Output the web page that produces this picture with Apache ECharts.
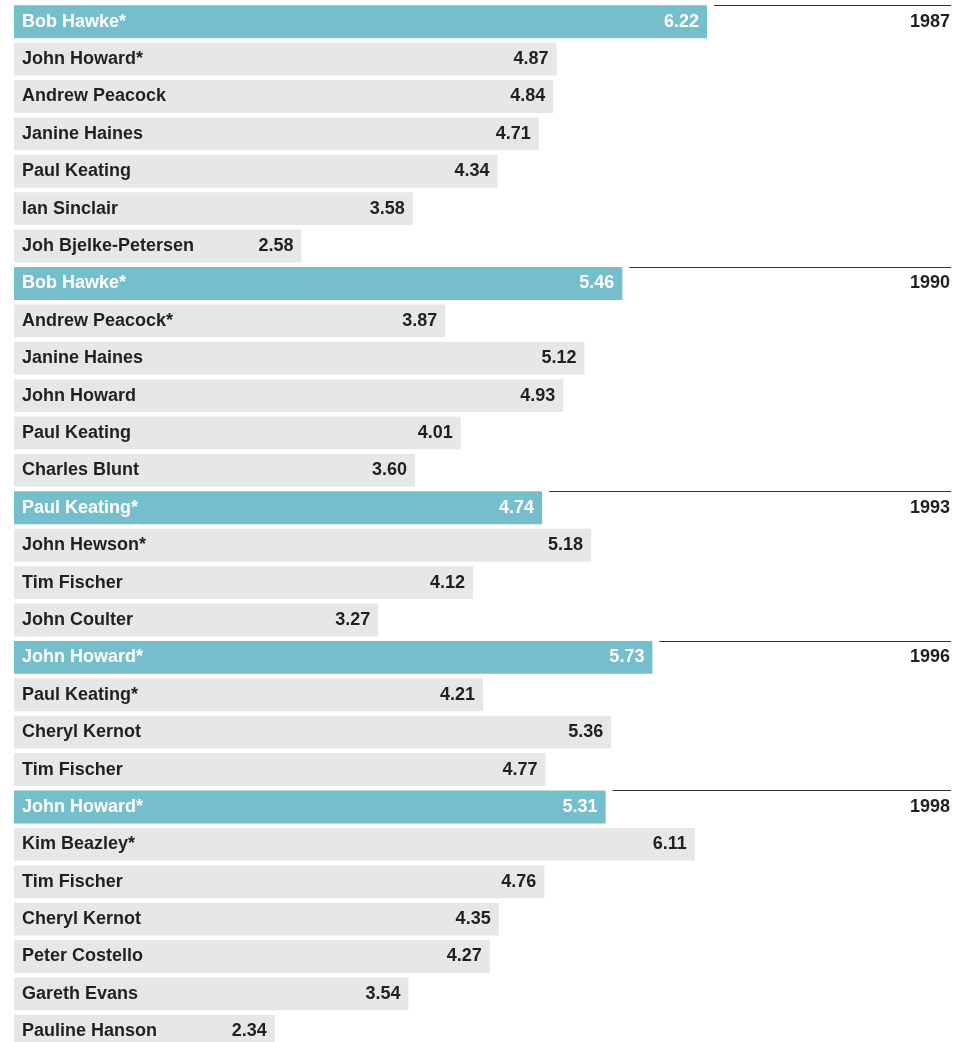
<!DOCTYPE html>
<html>
<head>
<meta charset="utf-8">
<script src="https://cdn.jsdelivr.net/npm/echarts@6/dist/echarts.min.js"></script>
<style>
  html, body { margin: 0; padding: 0; background: #ffffff; overflow: hidden; }
  #chart { width: 955px; height: 1052px; }
</style>
</head>
<body>
<div id="chart"></div>
<script>
// Leader ratings by election; the first entry of each election is the winner (highlighted).
const elections = ['1987', '1990', '1993', '1996', '1998'];

const names1987 = ['Bob Hawke*', 'John Howard*', 'Andrew Peacock', 'Janine Haines', 'Paul Keating', 'Ian Sinclair', 'Joh Bjelke-Petersen'];
const values1987 = [6.22, 4.87, 4.84, 4.71, 4.34, 3.58, 2.58];

const names1990 = ['Bob Hawke*', 'Andrew Peacock*', 'Janine Haines', 'John Howard', 'Paul Keating', 'Charles Blunt'];
const values1990 = [5.46, 3.87, 5.12, 4.93, 4.01, 3.60];

const names1993 = ['Paul Keating*', 'John Hewson*', 'Tim Fischer', 'John Coulter'];
const values1993 = [4.74, 5.18, 4.12, 3.27];

const names1996 = ['John Howard*', 'Paul Keating*', 'Cheryl Kernot', 'Tim Fischer'];
const values1996 = [5.73, 4.21, 5.36, 4.77];

const names1998 = ['John Howard*', 'Kim Beazley*', 'Tim Fischer', 'Cheryl Kernot', 'Peter Costello', 'Gareth Evans', 'Pauline Hanson'];
const values1998 = [5.31, 6.11, 4.76, 4.35, 4.27, 3.54, 2.34];

const groupNames = [names1987, names1990, names1993, names1996, names1998];
const groupValues = [values1987, values1990, values1993, values1996, values1998];

const TEAL = '#75bfcc';
const GREY = '#e6e7e9';
const INK = '#231f20';
const FONT = '"Liberation Sans", Arial, Helvetica, sans-serif';
const FONT_SIZE = 18;
const BAR_GAP = 0.12;

// Flatten the groups into rows
const rows = [];
groupNames.forEach((list, g) => {
  list.forEach((name, i) => {
    rows.push({ name: name, value: groupValues[g][i], head: i === 0, year: elections[g] });
  });
});
const rowKeys = rows.map((r, i) => 'r' + i);

const barData = rows.map(r => ({
  value: r.value,
  itemStyle: { color: r.head ? TEAL : GREY },
  label: { color: r.head ? '#ffffff' : INK }
}));

const headData = rows
  .map((r, i) => r.head ? [r.value, i, r.year] : null)
  .filter(Boolean);

const chart = echarts.init(document.getElementById('chart'), null, { renderer: 'canvas' });

chart.setOption({
  animation: false,
  backgroundColor: '#ffffff',
  grid: { left: 14, right: 4, top: 3, height: 1047, containLabel: false },
  xAxis: {
    type: 'value', min: 0, max: 8.41,
    show: false, splitLine: { show: false }
  },
  yAxis: {
    type: 'category', data: rowKeys, inverse: true, show: false
  },
  series: [
    {
      // bars with value labels at the end
      type: 'bar',
      data: barData,
      barCategoryGap: (BAR_GAP * 100) + '%',
      barGap: '-100%',
      label: {
        show: true, position: 'insideRight', distance: 8,
        fontFamily: FONT, fontWeight: 'bold', fontSize: FONT_SIZE,
        formatter: p => p.value.toFixed(2)
      },
      z: 2
    },
    {
      // transparent overlay carrying the leader names
      type: 'bar',
      data: rows.map(r => ({ value: r.value, label: { color: r.head ? '#ffffff' : INK } })),
      barCategoryGap: (BAR_GAP * 100) + '%',
      barGap: '-100%',
      itemStyle: { color: 'rgba(0,0,0,0)' },
      label: {
        show: true, position: 'insideLeft', distance: 8,
        fontFamily: FONT, fontWeight: 'bold', fontSize: FONT_SIZE,
        formatter: p => rows[p.dataIndex].name
      },
      z: 3
    },
    {
      // election rule and year label beside each winning bar
      type: 'custom',
      data: headData,
      encode: { x: 0, y: 1 },
      z: 4,
      renderItem: function (params, api) {
        const pt = api.coord([api.value(0), api.value(1)]);
        const band = api.size([0, 1])[1];
        const barH = band * (1 - BAR_GAP);
        const yTop = Math.round(pt[1] - barH / 2) + 0.5;
        const right = params.coordSys.x + params.coordSys.width;
        return {
          type: 'group',
          children: [
            {
              type: 'line',
              shape: { x1: pt[0] + 7, y1: yTop, x2: right, y2: yTop },
              style: { stroke: '#333333', lineWidth: 1 }
            },
            {
              type: 'text',
              style: {
                text: headData[params.dataIndex][2],
                x: right - 1, y: pt[1],
                align: 'right', verticalAlign: 'middle',
                fill: INK, font: 'bold ' + FONT_SIZE + 'px ' + FONT
              }
            }
          ]
        };
      }
    }
  ]
});
</script>
</body>
</html>
